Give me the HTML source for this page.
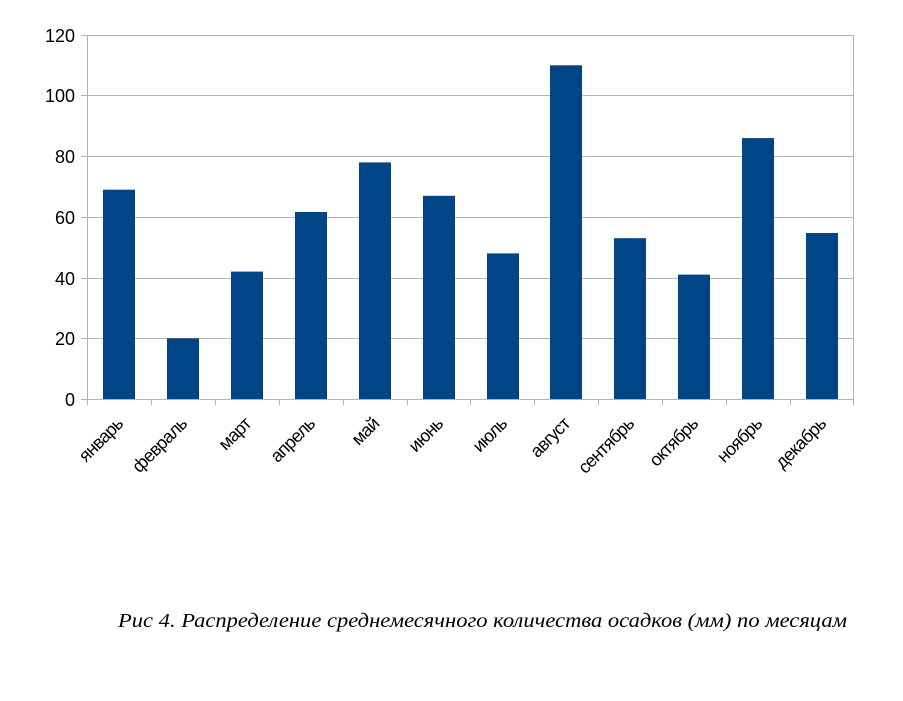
<!DOCTYPE html>
<html><head><meta charset="utf-8"><style>
html,body{margin:0;padding:0;background:#fff;}
</style></head><body>
<svg width="903" height="696" xmlns="http://www.w3.org/2000/svg" font-family="'Liberation Sans', sans-serif">
<rect width="903" height="696" fill="#fff"/>
<g stroke="#b3b3b3" stroke-width="1">
<line x1="87" y1="35.5" x2="854" y2="35.5"/>
<line x1="87" y1="95.5" x2="854" y2="95.5"/>
<line x1="87" y1="156.5" x2="854" y2="156.5"/>
<line x1="87" y1="217.5" x2="854" y2="217.5"/>
<line x1="87" y1="278.5" x2="854" y2="278.5"/>
<line x1="87" y1="338.5" x2="854" y2="338.5"/>
<line x1="87" y1="399.5" x2="854" y2="399.5"/>
<line x1="87.5" y1="35" x2="87.5" y2="405"/>
<line x1="853.5" y1="35" x2="853.5" y2="399"/>
<line x1="81" y1="35.5" x2="87" y2="35.5"/>
<line x1="81" y1="95.5" x2="87" y2="95.5"/>
<line x1="81" y1="156.5" x2="87" y2="156.5"/>
<line x1="81" y1="217.5" x2="87" y2="217.5"/>
<line x1="81" y1="278.5" x2="87" y2="278.5"/>
<line x1="81" y1="338.5" x2="87" y2="338.5"/>
<line x1="81" y1="399.5" x2="87" y2="399.5"/>
<line x1="151.5" y1="399" x2="151.5" y2="405"/>
<line x1="215.5" y1="399" x2="215.5" y2="405"/>
<line x1="279.5" y1="399" x2="279.5" y2="405"/>
<line x1="343.5" y1="399" x2="343.5" y2="405"/>
<line x1="407.5" y1="399" x2="407.5" y2="405"/>
<line x1="470.5" y1="399" x2="470.5" y2="405"/>
<line x1="534.5" y1="399" x2="534.5" y2="405"/>
<line x1="598.5" y1="399" x2="598.5" y2="405"/>
<line x1="662.5" y1="399" x2="662.5" y2="405"/>
<line x1="726.5" y1="399" x2="726.5" y2="405"/>
<line x1="790.5" y1="399" x2="790.5" y2="405"/>
<line x1="853.5" y1="399" x2="853.5" y2="405"/>
</g>
<g fill="#004586">
<rect x="103" y="189.7" width="32" height="209.3"/>
<rect x="167" y="338.3" width="32" height="60.7"/>
<rect x="231" y="271.6" width="32" height="127.4"/>
<rect x="295" y="212" width="32" height="187"/>
<rect x="359" y="162.4" width="32" height="236.6"/>
<rect x="423" y="195.8" width="32" height="203.2"/>
<rect x="487" y="253.4" width="32" height="145.6"/>
<rect x="550" y="65.3" width="32" height="333.7"/>
<rect x="614" y="238.2" width="32" height="160.8"/>
<rect x="678" y="274.6" width="32" height="124.4"/>
<rect x="742" y="138.1" width="32" height="260.9"/>
<rect x="806" y="233" width="32" height="166"/>
</g>
<g font-size="18" fill="#000" text-anchor="end">
<text x="75" y="42">120</text>
<text x="75" y="102">100</text>
<text x="75" y="163">80</text>
<text x="75" y="224">60</text>
<text x="75" y="285">40</text>
<text x="75" y="345">20</text>
<text x="75" y="406">0</text>
</g>
<g font-size="18" fill="#000" text-anchor="end" letter-spacing="-0.8">
<text transform="translate(124,425) rotate(-45)">январь</text>
<text transform="translate(188,425) rotate(-45)">февраль</text>
<text transform="translate(252,425) rotate(-45)">март</text>
<text transform="translate(316,425) rotate(-45)">апрель</text>
<text transform="translate(380,425) rotate(-45)">май</text>
<text transform="translate(444,425) rotate(-45)">июнь</text>
<text transform="translate(508,425) rotate(-45)">июль</text>
<text transform="translate(571,425) rotate(-45)">август</text>
<text transform="translate(635,425) rotate(-45)">сентябрь</text>
<text transform="translate(699,425) rotate(-45)">октябрь</text>
<text transform="translate(763,425) rotate(-45)">ноябрь</text>
<text transform="translate(827,425) rotate(-45)">декабрь</text>
</g>
<text x="118" y="627" font-family="'Liberation Serif', serif" font-style="italic" font-size="20" textLength="729" lengthAdjust="spacingAndGlyphs">Рис 4. Распределение среднемесячного количества осадков (мм) по месяцам</text>
</svg>
</body></html>
